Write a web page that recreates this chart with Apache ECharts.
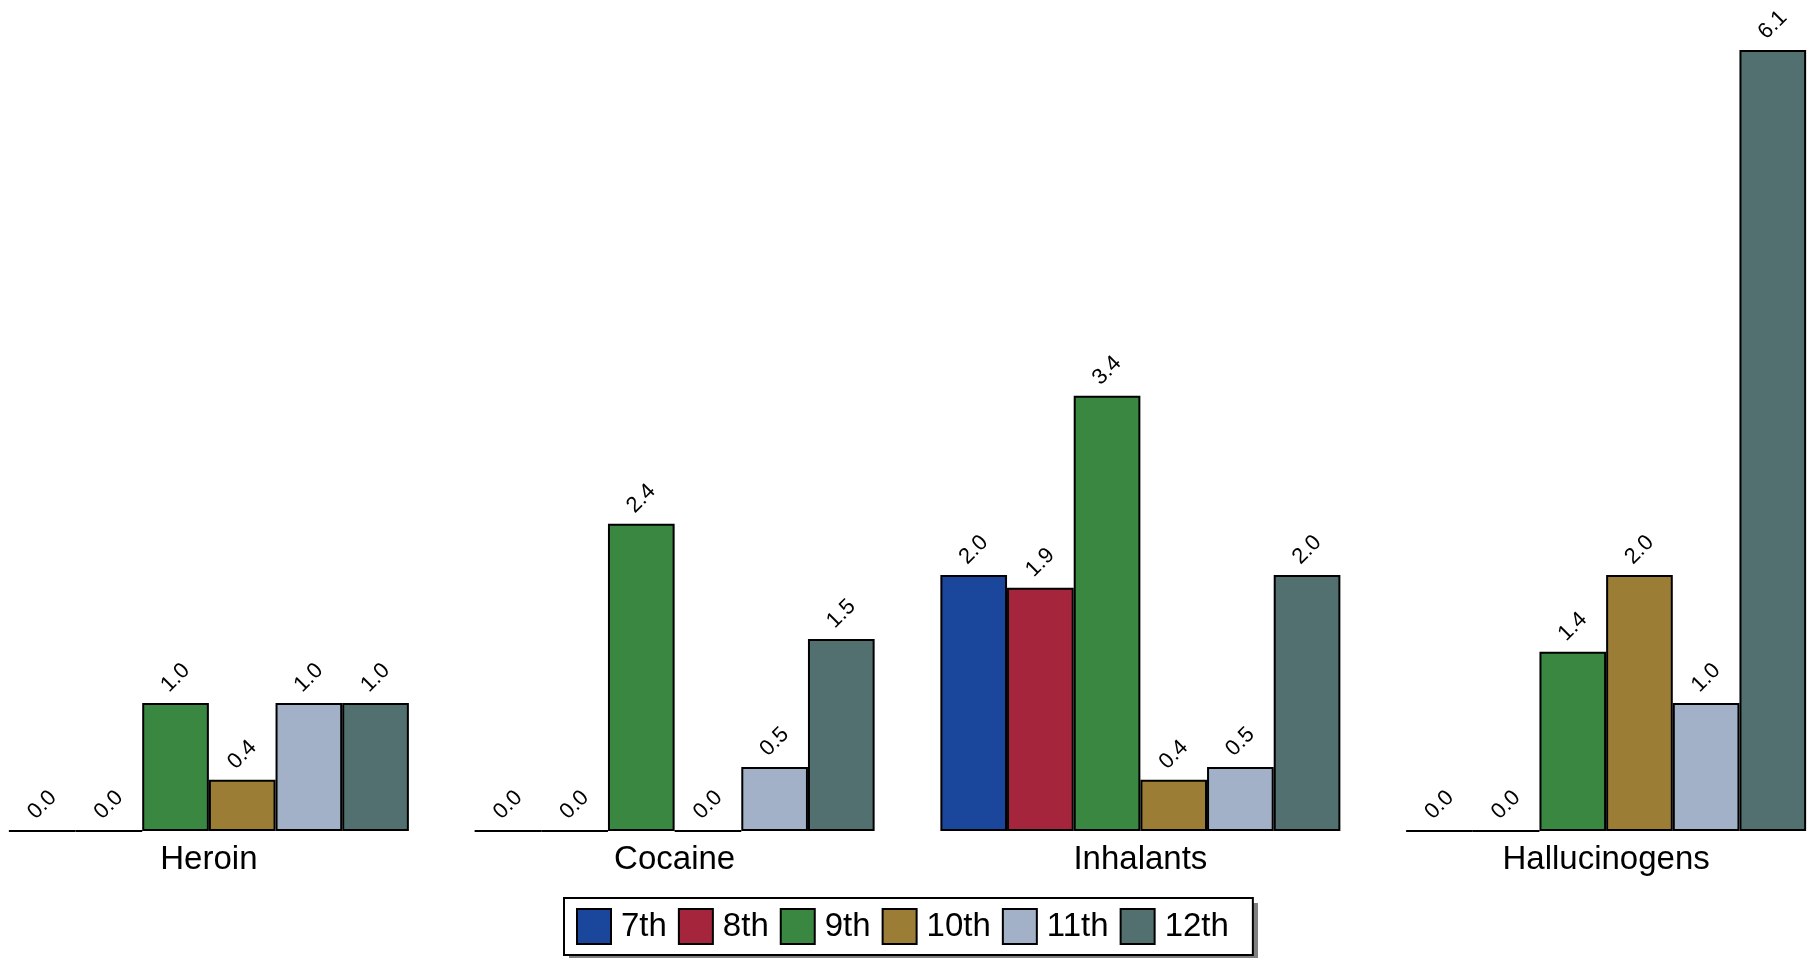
<!DOCTYPE html>
<html>
<head>
<meta charset="utf-8">
<style>
html,body{margin:0;padding:0;background:#fff;overflow:hidden;}
#wrap{position:relative;width:1815px;height:958px;overflow:hidden;}
#chart{position:absolute;left:-24px;top:0;width:1863px;height:958px;}
</style>
<script src="https://cdn.jsdelivr.net/npm/echarts@6/dist/echarts.min.js"></script>
</head>
<body>
<div id="wrap"><div id="chart"></div></div>
<script>
const categories = ['Heroin', 'Cocaine', 'Inhalants', 'Hallucinogens'];
const seriesNames = ['7th', '8th', '9th', '10th', '11th', '12th'];
const grade7 = [0.0, 0.0, 2.0, 0.0];
const grade8 = [0.0, 0.0, 1.9, 0.0];
const grade9 = [1.0, 2.4, 3.4, 1.4];
const grade10 = [0.4, 0.0, 0.4, 2.0];
const grade11 = [1.0, 0.5, 0.5, 1.0];
const grade12 = [1.0, 1.5, 2.0, 6.1];
const colors = ['#1A469C', '#A5263C', '#398741', '#9B7D35', '#A2B0C8', '#51706F'];

const allData = [grade7, grade8, grade9, grade10, grade11, grade12];
const FONT = '"Liberation Sans", Arial, sans-serif';

const LEG_LEFT = 588, LEG_TOP = 898;

const chart = echarts.init(document.getElementById('chart'), null, {renderer: 'canvas'});
chart.setOption({
  animation: false,
  backgroundColor: '#ffffff',
  grid: {left: 0, right: 0, top: 50, bottom: 127, containLabel: false},
  xAxis: {
    type: 'category',
    data: categories,
    axisLine: {show: false},
    axisTick: {show: false},
    splitLine: {show: false},
    axisLabel: {fontSize: 33, color: '#000', fontFamily: FONT, margin: 12, interval: 0}
  },
  yAxis: {
    type: 'value', min: 0, max: 6.1, show: false
  },
  legend: {
    data: seriesNames,
    left: LEG_LEFT,
    top: LEG_TOP,
    orient: 'horizontal',
    icon: 'rect',
    itemWidth: 34,
    itemHeight: 35,
    itemGap: 11,
    padding: [10, 24, 10, 12],
    selectedMode: false,
    z: 5,
    borderColor: '#000',
    borderWidth: 2,
    backgroundColor: '#ffffff',
    textStyle: {fontSize: 33, lineHeight: 35, color: '#000', fontFamily: FONT, padding: [0, 0, 0, 5]},
    itemStyle: {borderColor: '#000', borderWidth: 2}
  },
  graphic: [{
    type: 'rect',
    z: 1,
    silent: true,
    shape: {x: LEG_LEFT + 5, y: LEG_TOP + 5, width: 689, height: 55},
    style: {fill: '#808080'}
  }],
  series: seriesNames.map((name, i) => ({
    name: name,
    type: 'bar',
    data: allData[i],
    barWidth: 400 / 6,
    barGap: '0%',
    itemStyle: {color: colors[i], borderColor: '#000', borderWidth: 2},
    label: {
      show: true,
      position: 'top',
      distance: 25,
      rotate: 45,
      align: 'center',
      verticalAlign: 'middle',
      fontSize: 22,
      color: '#000',
      fontFamily: FONT,
      formatter: p => p.value.toFixed(1)
    }
  }))
});
</script>
</body>
</html>
